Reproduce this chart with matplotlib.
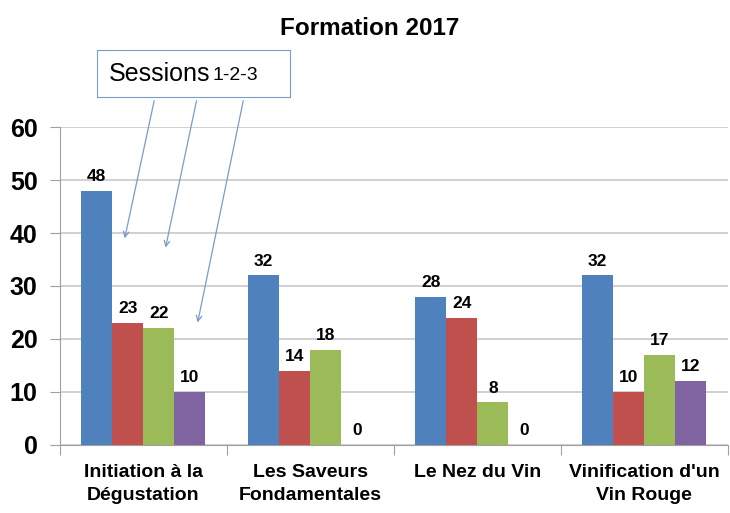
import numpy as np
import matplotlib.pyplot as plt
from matplotlib import font_manager

# data
categories = ["Initiation à la\nDégustation", "Les Saveurs\nFondamentales",
              "Le Nez du Vin", "Vinification d'un\nVin Rouge"]
session1 = [48, 32, 28, 32]
session2 = [23, 14, 24, 10]
session3 = [22, 18, 8, 17]
session4 = [10, 0, 0, 12]
colors = ['#4F81BD', '#C0504D', '#9BBB59', '#8064A2']

names = [f.name for f in font_manager.fontManager.ttflist]
fam = 'Liberation Sans Narrow' if 'Liberation Sans Narrow' in names else 'Liberation Sans'
plt.rcParams['font.family'] = [fam, 'DejaVu Sans']

fig = plt.figure(figsize=(7.3, 5.13), dpi=100)
ax = fig.add_axes([0.082, 0.133, 0.915, 0.619])

x = np.arange(len(categories))
w = 0.186
series = [session1, session2, session3, session4]
for i, vals in enumerate(series):
    pos = x + (i - 1.5) * w
    ax.bar(pos, vals, w, color=colors[i], zorder=3)
    for p, v in zip(pos, vals):
        ax.text(p, v + 1.3, str(v), ha='center', va='bottom',
                fontsize=12.5, fontweight='bold', zorder=4)

ax.set_xlim(-0.5, 3.5)
ax.set_ylim(0, 60)
ax.set_yticks(range(0, 61, 10))
ax.yaxis.grid(True, color='#c8c8c8', linewidth=1.2, zorder=0)
ax.set_xticks([-0.5, 0.5, 1.5, 2.5, 3.5])
ax.set_xticklabels([])
ax.set_xticks(x, minor=True)
ax.set_xticklabels(categories, minor=True, fontsize=14, fontweight='bold',
                   linespacing=1.45)
ax.tick_params(axis='x', which='minor', length=0, pad=14)
ax.tick_params(axis='x', which='major', length=7, color='#a0a0a0')
ax.tick_params(axis='y', length=7, color='#a0a0a0', labelsize=18, pad=9)
for t in ax.get_yticklabels():
    t.set_fontweight('bold')
for s in ['top', 'right']:
    ax.spines[s].set_visible(False)
for s in ['left', 'bottom']:
    ax.spines[s].set_color('#a0a0a0')

fig.text(0.507, 0.945, "Formation 2017", ha='center', va='center',
         fontsize=17.5, fontweight='bold', family=['Liberation Sans', 'DejaVu Sans'])

# annotation box
box = fig.add_axes([0.133, 0.81, 0.264, 0.093])
box.set_xticks([])
box.set_yticks([])
for s in box.spines.values():
    s.set_color('#7a9cc6')
box.text(0.06, 0.5, "Sessions", fontsize=18, va='center', ha='left',
         family=['Liberation Sans', 'DejaVu Sans'], transform=box.transAxes)
box.text(0.6, 0.47, "1-2-3", fontsize=14, va='center', ha='left',
         family=['Liberation Sans', 'DejaVu Sans'], transform=box.transAxes)

arrows = [((0.212, 0.809), (0.170, 0.530)),
          ((0.270, 0.809), (0.226, 0.512)),
          ((0.334, 0.809), (0.270, 0.366))]
for start, end in arrows:
    fig.add_artist(plt.matplotlib.patches.FancyArrowPatch(
        start, end, transform=fig.transFigure, arrowstyle='->',
        mutation_scale=10, color='#7a9cc6', linewidth=0.9))

fig.savefig('out.png', dpi=100)
